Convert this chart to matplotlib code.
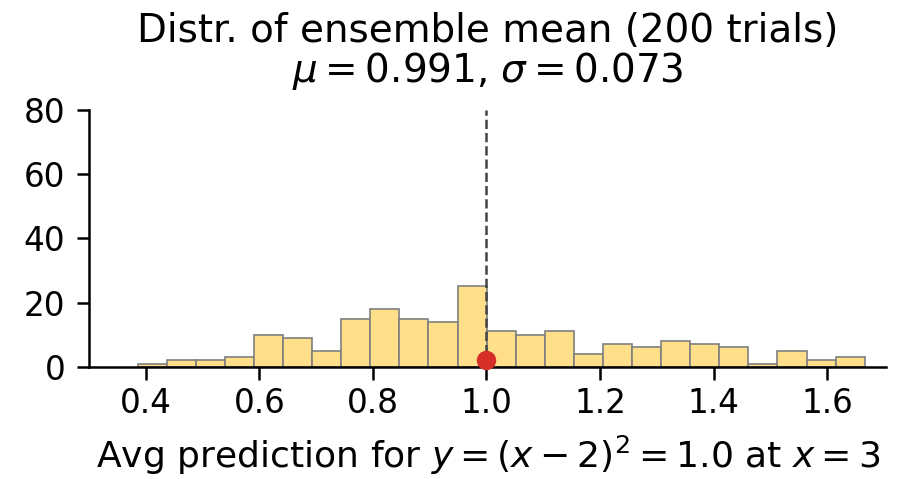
import numpy as np
import matplotlib
matplotlib.use("Agg")
import matplotlib.pyplot as plt

# histogram of 200 ensemble means (counts)
bin_start = 0.3859
bin_width = 0.0512
counts = [1, 2, 2, 3, 10, 9, 5, 15, 18, 15, 14, 25,
          11, 10, 11, 4, 7, 6, 8, 7, 6, 1, 5, 2, 3]
true_value = 1.0
dot_y = 2
mu, sigma = 0.991, 0.073
n_trials = 200

edges = bin_start + bin_width * np.arange(len(counts) + 1)
centers = edges[:-1] + bin_width / 2

fig = plt.figure(figsize=(8.98, 4.79), dpi=100)
ax = fig.add_axes([0.099, 0.2344, 0.888, 0.536])

ax.hist(centers, bins=edges, weights=counts, color="#ffdf8a",
        edgecolor="#7f7f7f", linewidth=1.2)
ax.axvline(true_value, color="#444444", ls="--", lw=1.8, zorder=3)
ax.plot([true_value], [dot_y], "o", color="#d62f27", ms=13, zorder=4,
        clip_on=False)

ax.set_xlim(0.30, 1.704)
ax.set_ylim(0, 80)
ax.set_xticks([0.4, 0.6, 0.8, 1.0, 1.2, 1.4, 1.6])
ax.set_yticks([0, 20, 40, 60, 80])

for s in ["top", "right"]:
    ax.spines[s].set_visible(False)
for s in ["left", "bottom"]:
    ax.spines[s].set_linewidth(1.8)
ax.tick_params(labelsize=23.5, width=1.8, length=9)
ax.tick_params(axis="x", pad=5.5)
ax.tick_params(axis="y", pad=8)

ax.set_title(f"Distr. of ensemble mean ({n_trials} trials)\n"
             rf"$\mu = {mu}$, $\sigma = {sigma}$", fontsize=28, pad=20,
             linespacing=1.0)
ax.set_xlabel(r"Avg prediction for $y = (x-2)^2 = 1.0$ at $x = 3$",
              fontsize=26, labelpad=10)

fig.savefig("out.png", dpi=100)
